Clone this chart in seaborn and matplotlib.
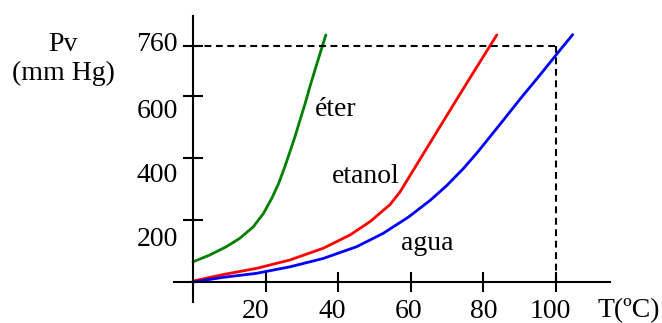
import numpy as np
import pandas as pd
import matplotlib
matplotlib.use("Agg")
import matplotlib.pyplot as plt
import matplotlib.transforms as mtransforms
import seaborn as sns

# vapour pressure curves (T in ºC, Pv in mm Hg)
eter_t = [0, 4.6, 9.2, 12.9, 16.6, 19.4, 21.7, 23.6, 25.3, 26.7, 28.1,
          29.5, 30.9, 32.2, 33.6, 35.0, 36.6]
eter_p = [65, 87, 114, 141, 178, 221, 270, 318, 372, 420, 469,
          523, 576, 630, 684, 737, 797]

etanol_t = [0, 8.3, 17.5, 26.7, 35.9, 43.3, 48.8, 54.3, 57.0, 61.6,
            67.2, 72.7, 78.2, 83.7]
etanol_p = [3, 24, 44, 71, 109, 152, 195, 250, 290, 378,
            485, 590, 694, 797]

agua_t = [0, 8.3, 17.5, 26.7, 35.9, 45.1, 52.4, 59.3, 65.3, 69.9, 74.4,
          78.2, 84.6, 90.1, 95.6, 101.1, 104.6]
agua_p = [0, 15, 28, 49, 76, 114, 157, 209, 263, 311, 365,
          416, 509, 590, 668, 748, 798]

x_ticks = [20, 40, 60, 80, 100]
y_ticks = [200, 400, 600, 760]
boil_t = 100
boil_p = 760

sns.set_style("white")
plt.rcParams["font.family"] = ["Liberation Serif", "DejaVu Serif"]
plt.rcParams["font.size"] = 20
plt.rcParams["text.color"] = "black"
plt.rcParams["xtick.color"] = "black"
plt.rcParams["ytick.color"] = "black"

W, H = 662, 323
fig = plt.figure(figsize=(W / 100, H / 100), dpi=100)
ax = fig.add_axes([174 / W, 21 / H, 436 / W, 286 / H])
ax.set_facecolor("white")

sx, sy = 3.63, 0.31  # px per unit
ax.set_xlim(-19 / sx, 417 / sx)
ax.set_ylim(-20 / sy, 266 / sy)

series = [(eter_t, eter_p, "green"), (etanol_t, etanol_p, "#ff0000"),
          (agua_t, agua_p, "#0000ff")]
for t, p, c in series:
    sns.lineplot(x=t, y=p, ax=ax, color=c, linewidth=2.0, sort=False,
                 estimator=None, legend=False)

# dashed guide at the normal boiling point of water
ax.plot([0, boil_t], [boil_p, boil_p], color="black", lw=1.5, dashes=(3.3, 2.2))
ax.plot([boil_t, boil_t], [0, boil_p], color="black", lw=1.5, dashes=(3.3, 2.2))

for s in ["top", "right"]:
    ax.spines[s].set_visible(False)
for s in ["left", "bottom"]:
    ax.spines[s].set_position(("data", 0))
    ax.spines[s].set_linewidth(1.5)
    ax.spines[s].set_color("black")

ax.set_xticks(x_ticks)
ax.set_yticks(y_ticks)
ax.set_xticklabels([str(v) for v in x_ticks])
ax.set_yticklabels([str(v) for v in y_ticks])
ax.tick_params(axis="both", direction="inout", length=14, width=1.5,
               colors="black", labelsize=20, bottom=True, left=True)
ax.tick_params(axis="x", pad=5)
ax.tick_params(axis="y", pad=4)

# nudge labels the way the drawing has them
for lab, dy in zip(ax.get_yticklabels(), [-16, -14, -12, 5]):
    lab.set_transform(lab.get_transform() +
                      mtransforms.ScaledTranslation(0, dy / 100, fig.dpi_scale_trans))
for lab, dx in zip(ax.get_xticklabels(), [-10, -6, -2, 0, -6]):
    lab.set_transform(lab.get_transform() +
                      mtransforms.ScaledTranslation(dx / 100, 0, fig.dpi_scale_trans))

ax.text(33.6, 535, "éter", ha="left", va="baseline", fontsize=20)
ax.text(38.3, 319, "etanol", ha="left", va="baseline", fontsize=20)
ax.text(57.3, 103, "agua", ha="left", va="baseline", fontsize=20)

fig.text(63 / W, 1 - 59 / H, "Pv\n(mm Hg)", ha="center", va="center",
         multialignment="center", fontsize=20)
fig.text(597 / W, 6 / H, "T(ºC)", ha="left", va="baseline", fontsize=20)

fig.savefig("out.png", dpi=100, facecolor="white")
